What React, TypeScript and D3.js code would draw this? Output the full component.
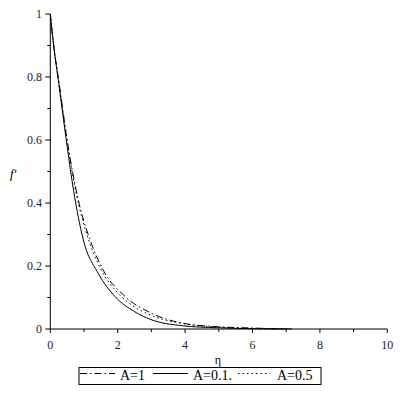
import React from "react";
import * as d3 from "d3";

const etaA1 = [0, 0.1, 0.25, 0.5, 0.83, 1.18, 1.57, 2.22, 2.96, 3.95, 5, 6, 7.2];
const fA1 = [1, 0.9, 0.79, 0.6, 0.41, 0.283, 0.187, 0.103, 0.052, 0.018, 0.007, 0.003, 0];

const etaA01 = [0, 0.1, 0.25, 0.5, 0.69, 0.98, 1.42, 1.92, 2.5, 2.96, 3.95, 4.94, 6, 7];
const fA01 = [1, 0.9, 0.78, 0.58, 0.44, 0.283, 0.177, 0.103, 0.055, 0.031, 0.01, 0.004, 0.001, 0];

const etaA05 = [0, 0.1, 0.25, 0.5, 0.8, 1.1, 1.5, 2, 2.5, 3, 4, 5, 6, 7];
const fA05 = [1, 0.9, 0.785, 0.595, 0.415, 0.295, 0.19, 0.115, 0.07, 0.043, 0.016, 0.006, 0.002, 0];

const xTicks = [0, 2, 4, 6, 8, 10];
const xMinor = [1, 3, 5, 7, 9];
const yTicks = [0, 0.2, 0.4, 0.6, 0.8, 1];
const yMinor = [0.1, 0.3, 0.5, 0.7, 0.9];
const legendLabels = ["A=1", "A=0.1.", "A=0.5"];

const font = "'Liberation Serif', 'Times New Roman', serif";

export default function App() {
  const x = d3.scaleLinear().domain([0, 10]).range([50.3, 387.3]);
  const y = d3.scaleLinear().domain([0, 1]).range([329, 14]);
  const line = d3
    .line<[number, number]>()
    .x((d) => x(d[0]))
    .y((d) => y(d[1]))
    .curve(d3.curveMonotoneX);
  const zip = (a: number[], b: number[]) => a.map((v, i) => [v, b[i]] as [number, number]);

  const series = [
    { d: zip(etaA1, fA1), dash: "7,3,1.5,3" },
    { d: zip(etaA01, fA01), dash: "" },
    { d: zip(etaA05, fA05), dash: "1.5,3" },
  ];

  const legendItems = [
    { x1: 80, x2: 115, tx: 120, dash: "7,3,1.5,3", label: legendLabels[0] },
    { x1: 153, x2: 188, tx: 193, dash: "", label: legendLabels[1] },
    { x1: 238, x2: 270, tx: 277, dash: "1.5,3", label: legendLabels[2] },
  ];

  return (
    <div style={{ position: "fixed", left: 0, top: 0 }}>
      <svg width={402} height={402} style={{ display: "block", background: "#fff" }}>
        {series.map((s, i) => (
          <path
            key={i}
            d={line(s.d) || ""}
            fill="none"
            stroke="#000"
            strokeWidth={1}
            strokeDasharray={s.dash || undefined}
          />
        ))}
        {/* axes */}
        <line x1={x(0)} x2={x(0)} y1={y(1)} y2={y(0)} stroke="#000" strokeWidth={1} />
        <line x1={x(0)} x2={x(10)} y1={y(0)} y2={y(0)} stroke="#000" strokeWidth={1} />
        {xTicks.map((t) => (
          <g key={"xt" + t}>
            <line x1={x(t)} x2={x(t)} y1={y(0)} y2={y(0) + 4} stroke="#000" />
            <text x={x(t)} y={349} textAnchor="middle" fontFamily={font} fontSize={12} fill="#1a1a3a">
              {t}
            </text>
          </g>
        ))}
        {xMinor.map((t) => (
          <line key={"xm" + t} x1={x(t)} x2={x(t)} y1={y(0)} y2={y(0) + 3} stroke="#000" />
        ))}
        {yTicks.map((t) => (
          <g key={"yt" + t}>
            <line x1={x(0) - 5} x2={x(0)} y1={y(t)} y2={y(t)} stroke="#000" />
            <text x={42} y={y(t) + 4} textAnchor="end" fontFamily={font} fontSize={12} fill="#1a1a3a">
              {t}
            </text>
          </g>
        ))}
        {yMinor.map((t) => (
          <line key={"ym" + t} x1={x(0) - 3} x2={x(0)} y1={y(t)} y2={y(t)} stroke="#000" />
        ))}
        <text x={218} y={364} textAnchor="middle" fontFamily={font} fontSize={12} fill="#000">
          η
        </text>
        <text x={10} y={178} fontFamily={font} fontSize={13} fontStyle="italic" fill="#000">
          f'
        </text>
        {/* legend */}
        <rect x={79} y={367.5} width={242} height={17} fill="none" stroke="#000" strokeWidth={1} />
        {legendItems.map((l, i) => (
          <g key={"lg" + i}>
            <line x1={l.x1} x2={l.x2} y1={373.5} y2={373.5} stroke="#000" strokeDasharray={l.dash || undefined} />
            <text x={l.tx} y={380} fontFamily={font} fontSize={14} fill="#000">
              {l.label}
            </text>
          </g>
        ))}
      </svg>
    </div>
  );
}
